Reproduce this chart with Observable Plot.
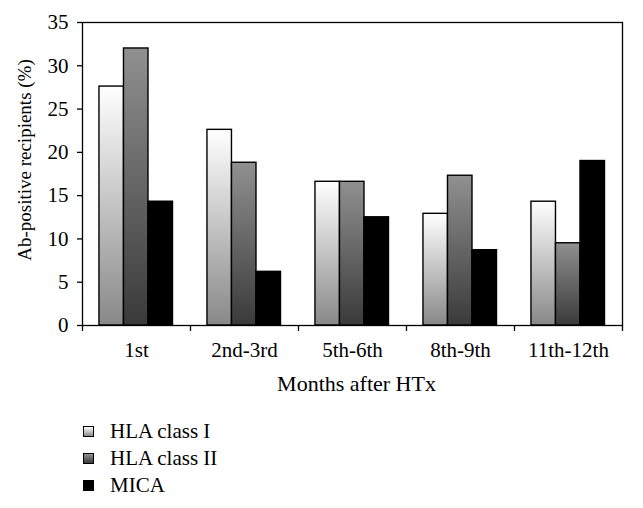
<!DOCTYPE html>
<html>
<head>
<meta charset="utf-8">
<script src="https://cdn.jsdelivr.net/npm/d3@7"></script>
<script src="https://cdn.jsdelivr.net/npm/@observablehq/plot@0.6"></script>
<style>
  body { margin: 0; background: #fff; font-family: "Liberation Serif", "DejaVu Serif", serif; }
  #legend { padding-top: 13px; padding-left: 83px; font-size: 21px; color: #000; }
  .row { height: 27px; display: flex; align-items: center; }
  .sw { width: 9px; height: 9px; border: 1px solid #000; margin-right: 16px; }
</style>
</head>
<body>
<div id="chart"></div>
<div id="legend"></div>
<script>
const months = ["1st", "2nd-3rd", "5th-6th", "8th-9th", "11th-12th"];
const series = ["HLA class I", "HLA class II", "MICA"];
const hlaI  = [27.6, 22.6, 16.6, 12.9, 14.3];
const hlaII = [32.0, 18.8, 16.6, 17.3, 9.5];
const mica  = [14.3, 6.2, 12.5, 8.7, 19.0];
const yTicks = [0, 5, 10, 15, 20, 25, 30, 35];
const yTitle = "Ab-positive recipients (%)";
const xTitle = "Months after HTx";

const gradients = [
  {id: "gI",  top: "#ffffff", bottom: "#888888"},
  {id: "gII", top: "#909090", bottom: "#3a3a3a"},
  {id: "gM",  top: "#000000", bottom: "#000000"}
];

// group layout inside each month band (in band units)
const pad = 0.157, bw = 0.227;
const valuesBySeries = [hlaI, hlaII, mica];
const data = [];
months.forEach((m, i) => {
  valuesBySeries.forEach((vals, s) => {
    data.push({month: m, series: series[s], s, value: vals[i],
               x1: i + pad + s * bw, x2: i + pad + (s + 1) * bw});
  });
});

const defs = () => {
  const d = d3.create("svg:defs");
  for (const g of gradients) {
    const lg = d.append("linearGradient").attr("id", g.id)
      .attr("x1", 0).attr("y1", 0).attr("x2", 0).attr("y2", 1);
    lg.append("stop").attr("offset", "0%").attr("stop-color", g.top);
    lg.append("stop").attr("offset", "100%").attr("stop-color", g.bottom);
  }
  return d.node();
};

const plot = Plot.plot({
  width: 643,
  height: 405,
  marginLeft: 82,
  marginRight: 21,
  marginTop: 22,
  marginBottom: 80,
  style: {fontFamily: "'Liberation Serif', 'DejaVu Serif', serif", fontSize: "21px", color: "#000", background: "#fff"},
  x: {domain: [0, months.length]},
  y: {domain: [0, 35]},
  marks: [
    defs,
    ...gradients.map((g, s) =>
      Plot.rectY(data.filter(d => d.s === s), {
        x1: "x1", x2: "x2", y: "value",
        fill: `url(#${g.id})`, stroke: "#000", strokeWidth: 1.4
      })
    ),
    Plot.frame({stroke: "#000", strokeWidth: 1.3}),
    Plot.axisY({ticks: yTicks, tickSize: 5, tickPadding: 9, fontSize: 21,
      label: null, stroke: "#000", strokeWidth: 1.3}),
    Plot.text([yTitle], {frameAnchor: "left", textAnchor: "middle", lineAnchor: "middle",
      rotate: -90, dx: -58, dy: -14, fontSize: 19, fill: "#000"}),
    Plot.axisX({ticks: d3.range(0, months.length + 1), tickSize: 6, tickFormat: () => "",
      label: null, stroke: "#000", strokeWidth: 1.3}),
    Plot.axisX({ticks: months.map((m, i) => i + 0.5), tickSize: 0, tickPadding: 17, fontSize: 21,
      tickFormat: d => months[Math.round(d - 0.5)], label: null}),
    Plot.text([xTitle], {frameAnchor: "bottom", lineAnchor: "middle", dy: 58, dx: 4,
      fontSize: 22, fill: "#000"})
  ]
});
document.getElementById("chart").appendChild(plot);

const legend = document.getElementById("legend");
series.forEach((name, s) => {
  const row = document.createElement("div");
  row.className = "row";
  const sw = document.createElement("div");
  sw.className = "sw";
  sw.style.background = `linear-gradient(${gradients[s].top}, ${gradients[s].bottom})`;
  row.appendChild(sw);
  const t = document.createElement("span");
  t.textContent = name;
  row.appendChild(t);
  legend.appendChild(row);
});
</script>
</body>
</html>
